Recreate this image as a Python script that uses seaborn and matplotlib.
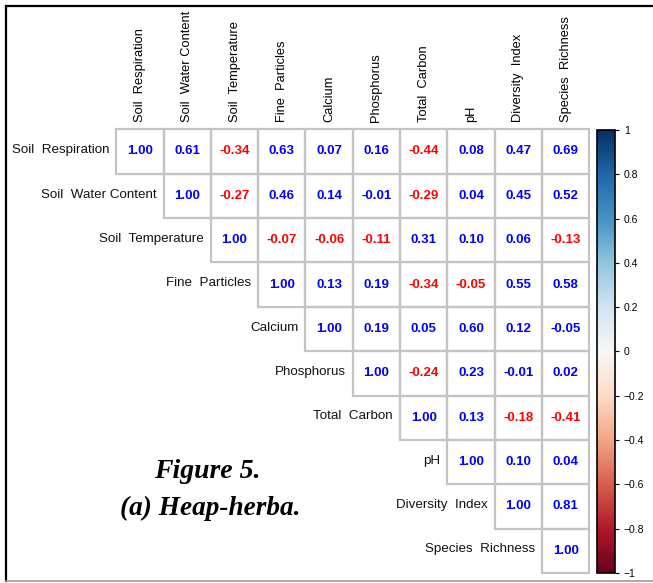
import matplotlib
matplotlib.use("Agg")
import matplotlib.pyplot as plt
import numpy as np
import pandas as pd
import seaborn as sns
from matplotlib.colors import ListedColormap, Normalize
from matplotlib.cm import ScalarMappable
from matplotlib.ticker import FuncFormatter
from matplotlib.lines import Line2D
from matplotlib.patches import Rectangle

# 变量名称
labels = ["Soil  Respiration", "Soil  Water Content", "Soil  Temperature",
          "Fine  Particles", "Calcium", "Phosphorus", "Total  Carbon", "pH",
          "Diversity  Index", "Species  Richness"]

# 相关系数（上三角）
row0 = [1.00, 0.61, -0.34, 0.63, 0.07, 0.16, -0.44, 0.08, 0.47, 0.69]
row1 = [1.00, -0.27, 0.46, 0.14, -0.01, -0.29, 0.04, 0.45, 0.52]
row2 = [1.00, -0.07, -0.06, -0.11, 0.31, 0.10, 0.06, -0.13]
row3 = [1.00, 0.13, 0.19, -0.34, -0.05, 0.55, 0.58]
row4 = [1.00, 0.19, 0.05, 0.60, 0.12, -0.05]
row5 = [1.00, -0.24, 0.23, -0.01, 0.02]
row6 = [1.00, 0.13, -0.18, -0.41]
row7 = [1.00, 0.10, 0.04]
row8 = [1.00, 0.81]
row9 = [1.00]
rows = [row0, row1, row2, row3, row4, row5, row6, row7, row8, row9]

# 原图中虽为负值但显示为蓝色的单元格 (行, 列)
blue_negatives = {(1, 5), (4, 9), (5, 8)}

n = len(labels)
mat = np.full((n, n), np.nan)
for i, r in enumerate(rows):
    mat[i, i:] = r
corr = pd.DataFrame(mat, index=labels, columns=labels)
mask = np.tril(np.ones((n, n), dtype=bool), k=-1)

fig = plt.figure(figsize=(6.53, 5.83), dpi=100)
ax = fig.add_axes([0.178, 0.0172, 0.7245, 0.761])
cax = fig.add_axes([0.914, 0.0172, 0.0276, 0.760])

# 白色单元格
sns.heatmap(corr, mask=mask, cmap=ListedColormap(["white"]), cbar=False,
            annot=True, fmt=".2f", linewidths=0,
            annot_kws={"fontsize": 9.5, "fontweight": "bold",
                       "family": "Liberation Sans"},
            square=False, ax=ax)

# 只给上三角单元格画灰色边框
for r in range(n):
    for c in range(r, n):
        ax.add_patch(Rectangle((c, r), 1, 1, fill=False, ec="#c4c4c4",
                               lw=1.6, clip_on=False, zorder=3))

# 数字颜色：正蓝负红
for t in ax.texts:
    x, y = t.get_position()
    c, r = int(x), int(y)
    v = mat[r, c]
    if v < 0 and (r, c) not in blue_negatives:
        t.set_color("#ff0000")
    else:
        t.set_color("#0000ff")

# 顶部列标签
ax.xaxis.tick_top()
ax.set_xticks(np.arange(n) + 0.5)
ax.set_xticklabels(labels, rotation=90, fontsize=9.3, family="Liberation Sans",
                   va="bottom", ha="center")
ax.tick_params(axis="x", length=0, pad=5)
ax.set_yticks([])
ax.set_xlabel("")
ax.set_ylabel("")

# 行标签放在对角线左侧
for i, lab in enumerate(labels):
    ax.text(i - 0.15, i + 0.47, lab, ha="right", va="center", fontsize=9.6,
            family="Liberation Sans", color="#111111")

# 颜色条
sm = ScalarMappable(norm=Normalize(-1, 1), cmap="RdBu")
cb = fig.colorbar(sm, cax=cax, ticks=np.linspace(-1, 1, 11))
cb.ax.yaxis.set_major_formatter(
    FuncFormatter(lambda v, p: f"{round(v, 1):g}".replace("-", "\u2212")))
cb.ax.tick_params(labelsize=7.5, length=3, width=0.8, direction="out")
cb.outline.set_linewidth(1.2)
cb.outline.set_edgecolor("black")
for lab in cb.ax.get_yticklabels():
    lab.set_family("Liberation Sans")

# 图题
fig.text(0.317, 0.192, "Figure 5.", ha="center", va="center", fontsize=20,
         family="Liberation Serif", style="italic", weight="bold")
fig.text(0.322, 0.128, "(a) Heap-herba.", ha="center", va="center", fontsize=19.6,
         family="Liberation Serif", style="italic", weight="bold")

# 外框
fig.add_artist(Line2D([6 / 653, 6 / 653], [0.003, 1 - 6 / 583], color="black",
                      lw=1.6, transform=fig.transFigure))
fig.add_artist(Line2D([6 / 653, 1], [1 - 6 / 583, 1 - 6 / 583], color="black",
                      lw=1.6, transform=fig.transFigure))
fig.add_artist(Line2D([6 / 653, 1], [0.003, 0.003], color="#9a9a9a",
                      lw=1.2, transform=fig.transFigure))

fig.savefig("out.png", dpi=100)
